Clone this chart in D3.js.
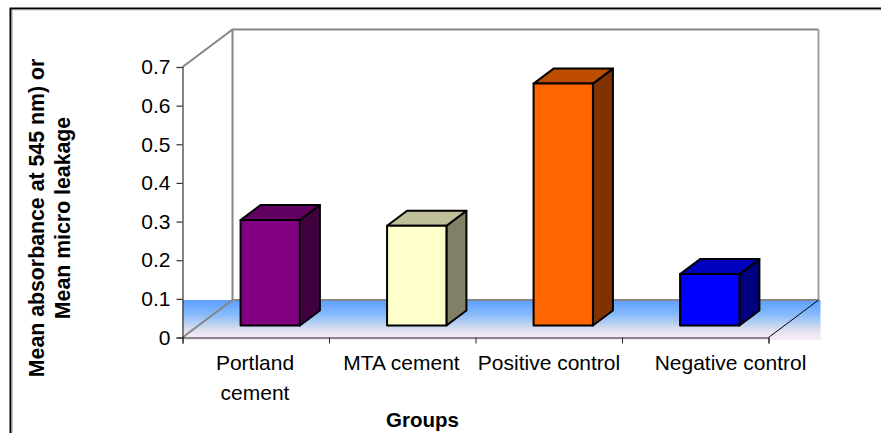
<!DOCTYPE html>
<html>
<head>
<meta charset="utf-8">
<script src="https://cdn.jsdelivr.net/npm/d3@7"></script>
<style>
  html, body { margin: 0; padding: 0; background: #fff; overflow: hidden; }
  text { font-family: "Liberation Sans", Arial, sans-serif; fill: #000; }
</style>
</head>
<body>
<div id="chart"></div>
<script>
var categories = ["Portland cement", "MTA cement", "Positive control", "Negative control"];
var values = [0.273, 0.258, 0.626, 0.133];
var yTicks = [0, 0.1, 0.2, 0.3, 0.4, 0.5, 0.6, 0.7];
var frontColors = ["#800080", "#ffffcc", "#ff6600", "#0000ff"];
var topColors = ["#600060", "#bfbf99", "#bf4d00", "#0000bf"];
var sideColors = ["#400040", "#808066", "#803300", "#000080"];

var width = 881, height = 433;

// front edge of the floor and the offset to the back wall
var left = 182.5, right = 768.5, base = 337.5, top07 = 67;
var depthX = 50, depthY = -37.5;
// bars sit a bit inside the depth
var barX = 16, barY = -12, barDX = 20, barDY = -15;

var svg = d3.select("#chart")
  .append("svg")
  .attr("width", width)
  .attr("height", height)
  .style("display", "block");

var x = d3.scaleBand().domain(categories).range([left, right]);
var xTicks = d3.scaleLinear().domain([0, categories.length]).range([left, right]);
var y = d3.scaleLinear().domain([0, 0.7]).range([base, top07]);
var barW = x.bandwidth() * 0.405;

// outer frame
svg.append("path")
  .attr("d", "M10.5,433V8.5H881")
  .attr("fill", "none").attr("stroke", "#000").attr("stroke-width", 2);
svg.append("path")
  .attr("d", "M12,433V9.8H881")
  .attr("fill", "none").attr("stroke", "#999").attr("stroke-width", 1);

// floor
var grad = svg.append("defs").append("linearGradient")
  .attr("id", "floor").attr("x1", 0).attr("y1", 0).attr("x2", 0).attr("y2", 1);
grad.append("stop").attr("offset", "0%").attr("stop-color", "#5c9fff");
grad.append("stop").attr("offset", "35%").attr("stop-color", "#85b9fb");
grad.append("stop").attr("offset", "70%").attr("stop-color", "#d2dbee");
grad.append("stop").attr("offset", "88%").attr("stop-color", "#f4e6f6");
grad.append("stop").attr("offset", "100%").attr("stop-color", "#faeaf8");

svg.append("rect")
  .attr("x", left).attr("y", y(0) + depthY)
  .attr("width", right + depthX + 2 - left).attr("height", 40)
  .attr("fill", "url(#floor)");

// walls
svg.append("path")
  .attr("d", "M" + left + "," + y(0.7) + "L" + (left + depthX) + "," + (y(0.7) + depthY) + "H" + (right + depthX))
  .attr("fill", "none").attr("stroke", "#868686").attr("stroke-width", 2);
svg.append("path")
  .attr("d", "M" + (left + depthX) + "," + (y(0.7) + depthY) + "V" + (y(0) + depthY))
  .attr("fill", "none").attr("stroke", "#868686").attr("stroke-width", 2);
svg.append("path")
  .attr("d", "M" + (right + depthX) + "," + (y(0.7) + depthY) + "V" + (y(0) + depthY))
  .attr("fill", "none").attr("stroke", "#a0a0a0").attr("stroke-width", 2);
svg.append("path")
  .attr("d", "M" + left + "," + y(0) + "L" + (left + depthX) + "," + (y(0) + depthY) + "H" + (right + depthX))
  .attr("fill", "none").attr("stroke", "#868686").attr("stroke-width", 2);
svg.append("path")
  .attr("d", "M" + right + "," + y(0) + "L" + (right + depthX) + "," + (y(0) + depthY))
  .attr("fill", "none").attr("stroke", "#000").attr("stroke-width", 1);

// bars
var bars = svg.selectAll("g.bar")
  .data(categories)
  .enter()
  .append("g")
  .attr("class", "bar")
  .attr("stroke", "#000")
  .attr("stroke-width", 2)
  .attr("stroke-linejoin", "round");

function barLeft(d) { return x(d) + x.bandwidth() / 2 - barW / 2 + barX - 1.5; }
function barBottom() { return y(0) + barY; }
function barTop(i) { return y(values[i]) + barY; }

bars.append("path")
  .attr("fill", function(d, i) { return sideColors[i]; })
  .attr("d", function(d, i) {
    var r = barLeft(d) + barW;
    return "M" + r + "," + barBottom() + "V" + barTop(i) + "l" + barDX + "," + barDY +
      "V" + (barBottom() + barDY) + "Z";
  });
bars.append("path")
  .attr("fill", function(d, i) { return topColors[i]; })
  .attr("d", function(d, i) {
    return "M" + barLeft(d) + "," + barTop(i) + "l" + barDX + "," + barDY + "h" + barW +
      "l" + (-barDX) + "," + (-barDY) + "Z";
  });
bars.append("rect")
  .attr("fill", function(d, i) { return frontColors[i]; })
  .attr("x", barLeft)
  .attr("y", function(d, i) { return barTop(i); })
  .attr("width", barW)
  .attr("height", function(d, i) { return barBottom() - barTop(i); });

// axes
var yAxis = svg.append("g")
  .attr("transform", "translate(" + left + ",0)")
  .call(d3.axisLeft(y).tickValues(yTicks).tickSize(6).tickPadding(6)
    .tickFormat(function(d) { return d === 0 ? "0" : d3.format(".1f")(d); }));
yAxis.selectAll("path,line").attr("stroke", "#333").attr("stroke-width", 1.2);
yAxis.selectAll("text")
  .style("font-family", "'Liberation Sans', Arial, sans-serif")
  .style("font-size", "21px");

var xAxis = svg.append("g")
  .attr("transform", "translate(0," + base + ")")
  .call(d3.axisBottom(xTicks).ticks(categories.length).tickSize(6).tickFormat(""));
xAxis.selectAll("path,line").attr("stroke", "#222").attr("stroke-width", 1);

// category labels
var labelLines = [["Portland", "cement"], ["MTA cement"], ["Positive control"], ["Negative control"]];
var labelCx = [255, 401.5, 549, 730.5];
svg.selectAll("text.cat")
  .data(categories)
  .enter()
  .append("text")
  .attr("class", "cat")
  .attr("text-anchor", "middle")
  .style("font-size", "21px")
  .each(function(d, i) {
    d3.select(this).selectAll("tspan")
      .data(labelLines[i])
      .enter()
      .append("tspan")
      .attr("x", labelCx[i])
      .attr("y", function(t, j) { return 370 + j * 30; })
      .text(function(t) { return t; });
  });

// axis titles
svg.append("text")
  .attr("x", 422.5).attr("y", 427)
  .attr("text-anchor", "middle")
  .style("font-size", "20.5px").style("font-weight", "bold")
  .text("Groups");

svg.append("text")
  .attr("transform", "translate(44,218) rotate(-90)")
  .attr("text-anchor", "middle")
  .style("font-size", "21.3px").style("font-weight", "bold")
  .text("Mean absorbance at 545 nm) or");
svg.append("text")
  .attr("transform", "translate(70,218) rotate(-90)")
  .attr("text-anchor", "middle")
  .style("font-size", "21.3px").style("font-weight", "bold")
  .text("Mean micro leakage");
</script>
</body>
</html>
